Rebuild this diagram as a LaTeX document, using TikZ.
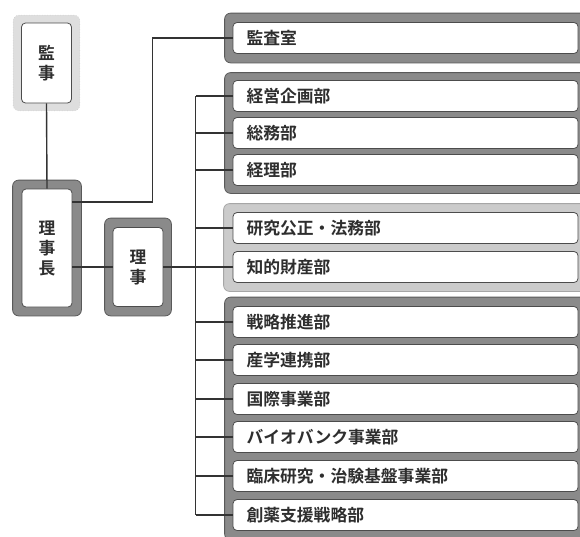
\documentclass[tikz,border=0pt]{standalone}
\usepackage{fontspec}
\newfontfamily\jp{Noto Sans CJK JP}[BoldFont={Noto Sans CJK JP Bold}]
\usetikzlibrary{fit}
\definecolor{grpdark}{HTML}{8A8A8A}
\definecolor{grplight}{HTML}{CBCBCB}
\definecolor{grppale}{HTML}{DEDEDE}
\definecolor{lnc}{HTML}{333333}
\definecolor{txt}{HTML}{2E2E2E}
\tikzset{
  box/.style={draw=black!70, line width=0.8pt, fill=white, rounded corners=4pt,
    text=txt, font=\jp\bfseries\fontsize{16.8}{20}\selectfont},
  dept/.style={box, minimum height=31pt, text width=318pt, inner xsep=13.5pt, align=left, inner ysep=0pt},
  vbox/.style={box, minimum width=50pt, align=center, inner sep=0pt},
  gdark/.style={draw=black!65, line width=0.8pt, fill=grpdark, rounded corners=6pt},
  glight/.style={draw=black!35, line width=0.8pt, fill=grplight, rounded corners=6pt},
  gpale/.style={draw=black!20, line width=0.6pt, dotted, fill=grppale, rounded corners=6pt},
  conn/.style={draw=lnc, line width=1.4pt}
}
\pgfdeclarelayer{bg}\pgfsetlayers{bg,main}
\begin{document}
\begin{tikzpicture}[x=1pt,y=-1pt]
\useasboundingbox (0,0) rectangle (580,536);
% departments
\node[dept] (d0) at (405.5,38) {監査室};
\node[dept] (d1) at (405.5,96) {経営企画部};
\node[dept] (d2) at (405.5,133) {総務部};
\node[dept] (d3) at (405.5,170) {経理部};
\node[dept] (d4) at (405.5,228) {研究公正・法務部};
\node[dept] (d5) at (405.5,267) {知的財産部};
\node[dept] (d6) at (405.5,322) {戦略推進部};
\node[dept] (d7) at (405.5,360) {産学連携部};
\node[dept] (d8) at (405.5,399) {国際事業部};
\node[dept] (d9) at (405.5,437) {バイオバンク事業部};
\node[dept] (d10) at (405.5,476) {臨床研究・治験基盤事業部};
\node[dept] (d11) at (405.5,515) {創薬支援戦略部};
% left boxes
\node[vbox, minimum height=80pt] (kanji) at (46.5,63) {監\\事};
\node[vbox, minimum height=118pt] (rjc) at (47,248) {理\\事\\長};
\node[vbox, minimum height=79pt] (riji) at (138,267) {理\\事};
% group backgrounds
\begin{pgfonlayer}{bg}
\node[gdark, fit=(d0), inner xsep=8pt, inner ysep=9pt] (g0) {};
\node[gdark, fit=(d1)(d3), inner xsep=8pt, inner ysep=7.5pt] (g1) {};
\node[glight, fit=(d4)(d5), inner xsep=9pt, inner ysep=8.5pt] (g2) {};
\node[gdark, fit=(d6)(d11), inner xsep=8pt, inner ysep=9pt] (g3) {};
\node[gpale, fit=(kanji), inner xsep=8pt, inner ysep=7.5pt] (gk) {};
\node[gdark, fit=(rjc), inner xsep=9pt, inner ysep=8.5pt] (gr) {};
\node[gdark, fit=(riji), inner xsep=8pt, inner ysep=9pt] (gj) {};
\end{pgfonlayer}
% connectors
\draw[conn] (kanji.south) -- (rjc.north);
\draw[conn] ([yshift=46pt]rjc.east) -- ++(80,0) |- (d0.west);
\draw[conn] (rjc.east |- riji.west) -- (riji.west);
\draw[conn] (riji.east) -- (riji.east -| d5.west);
\draw[conn] ([xshift=-37pt]d1.west) -- ([xshift=-37pt]d11.west);
\foreach \i in {1,2,3,4,6,7,8,9,10,11}{
  \draw[conn] (d\i.west) -- ++(-37,0);
}
\end{tikzpicture}
\end{document}
